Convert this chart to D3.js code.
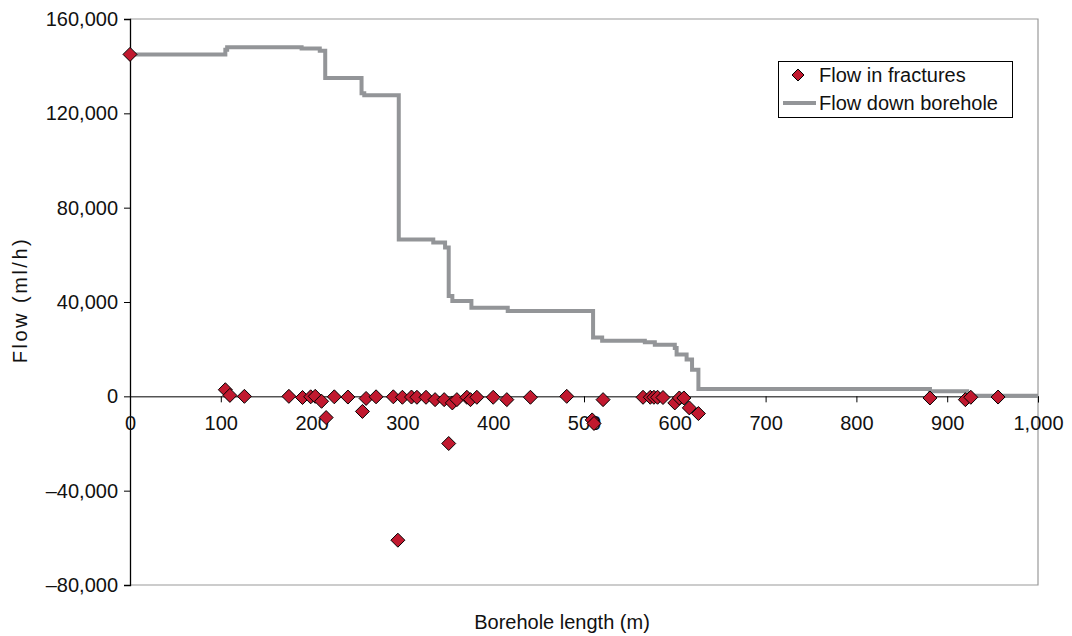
<!DOCTYPE html>
<html>
<head>
<meta charset="utf-8">
<script src="https://cdn.jsdelivr.net/npm/d3@7"></script>
<style>
  html, body { margin: 0; padding: 0; background: #fff; }
  svg { display: block; }
  text { font-family: "Liberation Sans", Arial, sans-serif; }
</style>
</head>
<body>
<svg id="chart" width="1072" height="636"></svg>
<script>
// ---- Data ----
const fractureLength = [0, 105, 110, 126, 175, 190, 199, 204, 211, 216, 225, 240, 256, 260, 271, 290, 295, 300, 310, 316, 326, 336, 346, 351, 355, 360, 371, 375, 382, 400, 415, 441, 481, 509, 511, 521, 565, 573, 577, 581, 587, 600, 605, 610, 616, 626, 881, 920, 926, 956];
const fractureFlow   = [145000, 2800, 400, 0, 0, -500, -200, 0, -2100, -9000, -200, -300, -6400, -900, -200, -200, -61000, -400, -300, -400, -400, -1400, -1400, -20000, -2800, -1400, -400, -1400, -400, -400, -1400, -400, 0, -10000, -11500, -1400, -400, -400, -400, -400, -500, -2800, -700, -700, -4900, -7300, -700, -1400, -400, -300];

const boreholeLength = [0, 105, 107, 189, 209, 215, 255, 258, 296, 334, 347, 351, 355, 376, 416, 510, 520, 567, 578, 600, 602, 613, 619, 626, 881, 922, 1000];
const boreholeFlow   = [145000, 147000, 148000, 147500, 146500, 135000, 128500, 127700, 66500, 65200, 63100, 42500, 40400, 37600, 36200, 25000, 23600, 22900, 21900, 20500, 17700, 15600, 11300, 3100, 2200, 300, 300];

const xTicks = [0, 100, 200, 300, 400, 500, 600, 700, 800, 900, 1000];
const yTicks = [-80000, -40000, 0, 40000, 80000, 120000, 160000];
const seriesNames = ["Flow in fractures", "Flow down borehole"];
const xTitle = "Borehole length (m)";
const yTitle = "Flow (ml/h)";

// ---- Layout ----
const svg = d3.select("#chart");
const L = 130, R = 1038, T = 19, B = 585;
const x = d3.scaleLinear().domain([0, 1000]).range([L, R]);
const y = d3.scaleLinear().domain([-80000, 160000]).range([B, T]);

const fmt = v => (v < 0 ? "\u2013" : "") + d3.format(",")(Math.abs(v));

// plot border (gray)
svg.append("path")
  .attr("d", `M${L},${T}H${R}V${B}H${L}`)
  .attr("fill", "none").attr("stroke", "#9a9a9a").attr("stroke-width", 1.2);

// Y axis
const yAxis = svg.append("g").attr("transform", `translate(${L},0)`)
  .call(d3.axisLeft(y).tickValues(yTicks).tickFormat(fmt).tickSize(6).tickPadding(6));
yAxis.select(".domain").attr("stroke", "#000").attr("stroke-width", 1.3);
yAxis.selectAll(".tick line").attr("stroke", "#000");
yAxis.selectAll("text").attr("font-size", 20).attr("fill", "#111")
  .attr("font-family", "Liberation Sans, Arial, sans-serif");

// X axis at zero
const xAxis = svg.append("g").attr("transform", `translate(0,${y(0)})`)
  .call(d3.axisBottom(x).tickValues(xTicks).tickFormat(d3.format(",")).tickSize(6).tickPadding(13));
xAxis.select(".domain").attr("stroke", "#000").attr("stroke-width", 1);
xAxis.selectAll(".tick line").attr("stroke", "#000");
xAxis.selectAll("text").attr("font-size", 20).attr("fill", "#111")
  .attr("font-family", "Liberation Sans, Arial, sans-serif");

// Borehole step line
const lineData = boreholeLength.map((d, i) => [d, boreholeFlow[i]]);
svg.append("path")
  .datum(lineData)
  .attr("fill", "none")
  .attr("stroke", "#939598")
  .attr("stroke-width", 4)
  .attr("d", d3.line().x(d => x(d[0])).y(d => y(d[1])).curve(d3.curveStepAfter));

// Fracture diamonds
const diamond = r => `M0,${-r}L${r},0L0,${r}L${-r},0Z`;
svg.append("g").selectAll("path")
  .data(fractureLength.map((d, i) => [d, fractureFlow[i]]))
  .join("path")
  .attr("transform", d => `translate(${x(d[0])},${y(d[1])})`)
  .attr("d", diamond(7))
  .attr("fill", "#c1192f")
  .attr("stroke", "#000")
  .attr("stroke-width", 1);

// Legend
const lg = svg.append("g");
lg.append("rect").attr("x", 778.5).attr("y", 61.5).attr("width", 234).attr("height", 56)
  .attr("fill", "#fff").attr("stroke", "#000").attr("stroke-width", 1);
lg.append("path").attr("transform", "translate(798,75)").attr("d", diamond(6))
  .attr("fill", "#c1192f").attr("stroke", "#000").attr("stroke-width", 1);
lg.append("line").attr("x1", 783).attr("x2", 816).attr("y1", 103).attr("y2", 103)
  .attr("stroke", "#939598").attr("stroke-width", 4);
lg.selectAll("text.leg").data(seriesNames).join("text")
  .attr("class", "leg")
  .attr("x", 819).attr("y", (d, i) => 75 + i * 28).attr("dy", "0.35em")
  .attr("font-size", 20).attr("fill", "#111").text(d => d);

// Axis titles
svg.append("text").attr("x", 562).attr("y", 629).attr("text-anchor", "middle")
  .attr("font-size", 20).attr("fill", "#111")
  .attr("font-family", "Noto Sans, sans-serif").text(xTitle);
svg.append("text").attr("transform", "translate(27,300) rotate(-90)").attr("text-anchor", "middle")
  .attr("font-size", 20).attr("fill", "#111").attr("letter-spacing", 2.5)
  .attr("font-family", "Noto Sans, sans-serif").text(yTitle);
</script>
</body>
</html>
